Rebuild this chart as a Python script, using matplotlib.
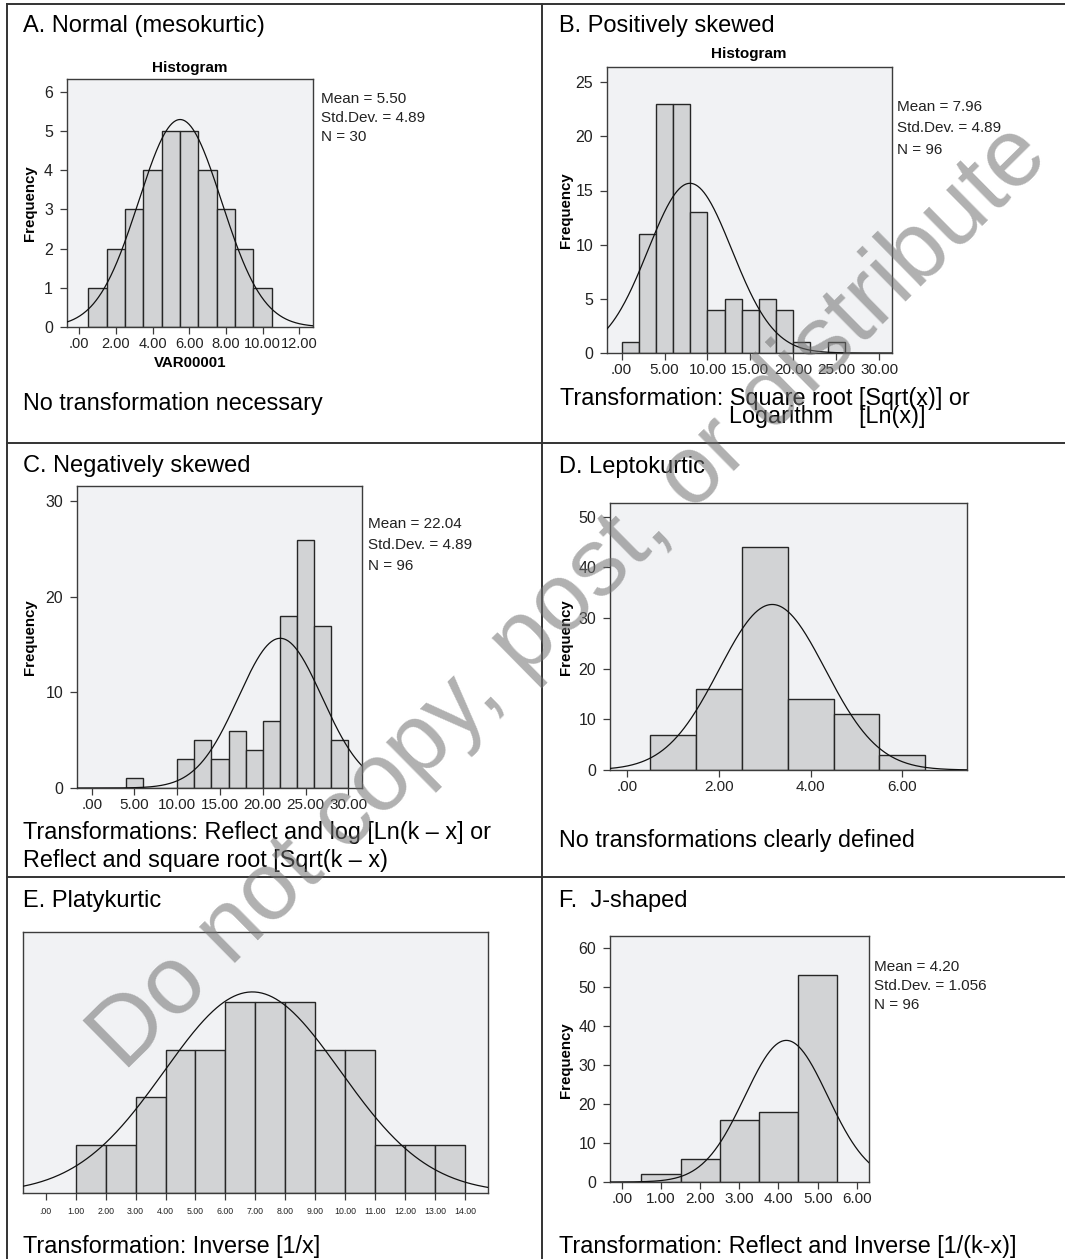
import numpy as np
import matplotlib
matplotlib.use("Agg")
import matplotlib.pyplot as plt
from matplotlib.lines import Line2D

W, H = 1065, 1259
DPI = 100
plt.rcParams['font.family'] = ['Liberation Sans', 'DejaVu Sans']

# ---------------- data ----------------
# A. Normal
a_centers = [1, 2, 3, 4, 5, 6, 7, 8, 9, 10]
a_counts = [1, 2, 3, 4, 5, 5, 4, 3, 2, 1]
a_width = 1.0
a_curve = (5.5, 2.26, 30)
a_xticks = [0, 2, 4, 6, 8, 10, 12]
a_xticklabels = ['.00', '2.00', '4.00', '6.00', '8.00', '10.00', '12.00']
a_yticks = [0, 1, 2, 3, 4, 5, 6]
a_stats = ['Mean = 5.50', 'Std.Dev. = 4.89', 'N = 30']

# B. Positively skewed
b_centers = [1, 3, 5, 7, 9, 11, 13, 15, 17, 19, 21, 23, 25]
b_counts = [1, 11, 23, 23, 13, 4, 5, 4, 5, 4, 1, 0, 1]
b_width = 2.0
b_curve = (7.96, 4.89, 96)
b_xticks = [0, 5, 10, 15, 20, 25, 30]
b_xticklabels = ['.00', '5.00', '10.00', '15.00', '20.00', '25.00', '30.00']
b_yticks = [0, 5, 10, 15, 20, 25]
b_stats = ['Mean = 7.96', 'Std.Dev. = 4.89', 'N = 96']

# C. Negatively skewed
c_centers = [5, 7, 9, 11, 13, 15, 17, 19, 21, 23, 25, 27, 29]
c_counts = [1, 0, 0, 3, 5, 3, 6, 4, 7, 18, 26, 17, 5]
c_width = 2.0
c_curve = (22.04, 4.89, 96)
c_xticks = [0, 5, 10, 15, 20, 25, 30]
c_xticklabels = ['.00', '5.00', '10.00', '15.00', '20.00', '25.00', '30.00']
c_yticks = [0, 10, 20, 30]
c_stats = ['Mean = 22.04', 'Std.Dev. = 4.89', 'N = 96']

# D. Leptokurtic
d_centers = [1, 2, 3, 4, 5, 6]
d_counts = [7, 16, 44, 14, 11, 3]
d_width = 1.0
d_curve = (3.16, 1.16, 95)
d_xticks = [0, 2, 4, 6]
d_xticklabels = ['.00', '2.00', '4.00', '6.00']
d_yticks = [0, 10, 20, 30, 40, 50]

# E. Platykurtic
e_centers = [1.5, 2.5, 3.5, 4.5, 5.5, 6.5, 7.5, 8.5, 9.5, 10.5, 11.5, 12.5, 13.5]
e_counts = [1, 1, 2, 3, 3, 4, 4, 4, 3, 3, 1, 1, 1]
e_width = 1.0
e_curve = (6.9, 2.94, 31)
e_xticks = list(range(15))
e_xticklabels = ['.00', '1.00', '2.00', '3.00', '4.00', '5.00', '6.00', '7.00',
                 '8.00', '9.00', '10.00', '11.00', '12.00', '13.00', '14.00']

# F. J-shaped
f_centers = [1, 2, 3, 4, 5]
f_counts = [2, 6, 16, 18, 53]
f_width = 1.0
f_curve = (4.20, 1.056, 96)
f_xticks = [0, 1, 2, 3, 4, 5, 6]
f_xticklabels = ['.00', '1.00', '2.00', '3.00', '4.00', '5.00', '6.00']
f_yticks = [0, 10, 20, 30, 40, 50, 60]
f_stats = ['Mean = 4.20', 'Std.Dev. = 1.056', 'N = 96']

# ---------------- styling ----------------
AX_BG = '#f1f2f4'
BAR_FC = '#d2d3d5'
EDGE = '#262626'
SPINE = '#3c3c3c'

fig = plt.figure(figsize=(W / DPI, H / DPI), dpi=DPI)


def fx(x):
    return x / W


def fy(y):
    return 1 - y / H


def add_axes(l, t, r, b):
    return fig.add_axes([l / W, 1 - b / H, (r - l) / W, (b - t) / H])


def text(x, y, s, size, **kw):
    return fig.text(fx(x), fy(y), s, fontsize=size, **kw)


def hist_panel(rect, centers, counts, width, curve, xlim, ylim, xticks, xticklabels,
               yticks=None, tick_size=11, show_y=True, xpad=2):
    ax = add_axes(*rect)
    ax.set_facecolor(AX_BG)
    ax.bar(centers, counts, width=width, align='center', color=BAR_FC,
           edgecolor=EDGE, linewidth=1.0, zorder=2)
    mu, sd, n = curve
    xs = np.linspace(xlim[0], xlim[1], 400)
    ys = n * width / (sd * np.sqrt(2 * np.pi)) * np.exp(-0.5 * ((xs - mu) / sd) ** 2)
    ax.plot(xs, ys, color='#111111', linewidth=0.9, zorder=3)
    ax.set_xlim(*xlim)
    ax.set_ylim(*ylim)
    ax.set_xticks(xticks)
    ax.set_xticklabels(xticklabels, fontsize=tick_size, color='#222222')
    if show_y:
        ax.set_yticks(yticks)
        ax.set_yticklabels([str(v) for v in yticks], fontsize=11.5, color='#222222')
    else:
        ax.set_yticks([])
    ax.tick_params(axis='x', length=5, width=0.9, color=SPINE, pad=xpad)
    ax.tick_params(axis='y', length=5, width=0.9, color=SPINE, pad=5)
    for sp in ax.spines.values():
        sp.set_color(SPINE)
        sp.set_linewidth(1.0)
    return ax


# Panel A
hist_panel((67, 79, 313, 327), a_centers, a_counts, a_width, a_curve,
           (-0.67, 12.75), (0, 6.33), a_xticks, a_xticklabels, a_yticks, tick_size=10.5)
# Panel B
hist_panel((607, 67, 892, 353), b_centers, b_counts, b_width, b_curve,
           (-1.71, 31.5), (0, 26.4), b_xticks, b_xticklabels, b_yticks)
# Panel C
hist_panel((77, 486, 362, 788), c_centers, c_counts, c_width, c_curve,
           (-1.72, 31.6), (0, 31.6), c_xticks, c_xticklabels, c_yticks)
# Panel D
hist_panel((610, 503, 967, 770), d_centers, d_counts, d_width, d_curve,
           (-0.38, 7.41), (0, 52.7), d_xticks, d_xticklabels, d_yticks)
# Panel E
hist_panel((23, 932, 488, 1193), e_centers, e_counts, e_width, e_curve,
           (-0.76, 14.77), (0, 5.46), e_xticks, e_xticklabels, tick_size=6.3,
           show_y=False, xpad=5)
# Panel F
hist_panel((610, 936, 869, 1182), f_centers, f_counts, f_width, f_curve,
           (-0.3, 6.31), (0, 63), f_xticks, f_xticklabels, f_yticks)

# Panel titles
TS = 17
text(23, 32, 'A. Normal (mesokurtic)', TS, va='baseline')
text(559, 32, 'B. Positively skewed', TS, va='baseline')
text(23, 472, 'C. Negatively skewed', TS, va='baseline')
text(559, 473, 'D. Leptokurtic', TS, va='baseline')
text(23, 907, 'E. Platykurtic', TS, va='baseline')
text(559, 907, 'F.  J-shaped', TS, va='baseline')

# Bottom notes
NS = 16.8
text(23, 410, 'No transformation necessary', NS, va='baseline')
# two-line note in panel B, second line indented, as one text block
text(560, 423, 'Transformation: Square root [Sqrt(x)] or\n'
     + ' ' * 26 + 'Logarithm    [Ln(x)]', NS, va='baseline', linespacing=0.72)
text(23, 839, 'Transformations: Reflect and log [Ln(k \u2013 x] or', NS, va='baseline')
text(23, 867, 'Reflect and square root [Sqrt(k \u2013 x)', NS, va='baseline')
text(559, 847, 'No transformations clearly defined', NS, va='baseline')
text(23, 1253, 'Transformation: Inverse [1/x]', NS, va='baseline')
text(559, 1253, 'Transformation: Reflect and Inverse [1/(k-x)]', NS, va='baseline')

# Histogram titles and x label
text(190, 72, 'Histogram', 11, ha='center', va='baseline', weight='bold')
text(749, 58, 'Histogram', 11, ha='center', va='baseline', weight='bold')
text(190, 367, 'VAR00001', 10.8, ha='center', va='baseline', weight='bold')

# Frequency labels
for (x, y) in [(30, 203), (566, 210), (30, 637), (566, 637), (566, 1060)]:
    text(x, y, 'Frequency', 10.8, ha='center', va='center', rotation=90, weight='bold')


# Stats blocks
def stats(x, y0, dy, lines):
    for i, s in enumerate(lines):
        text(x, y0 + i * dy, s, 11, va='baseline', color='#222222')


stats(321, 103, 19, a_stats)
stats(897, 111, 21.5, b_stats)
stats(368, 528, 21, c_stats)
stats(874, 971, 19, f_stats)

# Panel borders
LC = '#333333'
LW = 1.4
for (x0, y0, x1, y1) in [(7, 4, 1065, 4), (7, 4, 7, 1259), (542, 4, 542, 1259),
                         (7, 443, 1065, 443), (7, 877, 1065, 877)]:
    fig.add_artist(Line2D([fx(x0), fx(x1)], [fy(y0), fy(y1)], color=LC, linewidth=LW,
                          transform=fig.transFigure))

# Watermark
fig.text(fx(570), fy(598), 'Do not copy, post, or distribute', fontsize=69.5,
         color='#707070', alpha=0.55, rotation=44.6, ha='center', va='center',
         rotation_mode='anchor', zorder=10)

fig.savefig('out.png', dpi=DPI)
